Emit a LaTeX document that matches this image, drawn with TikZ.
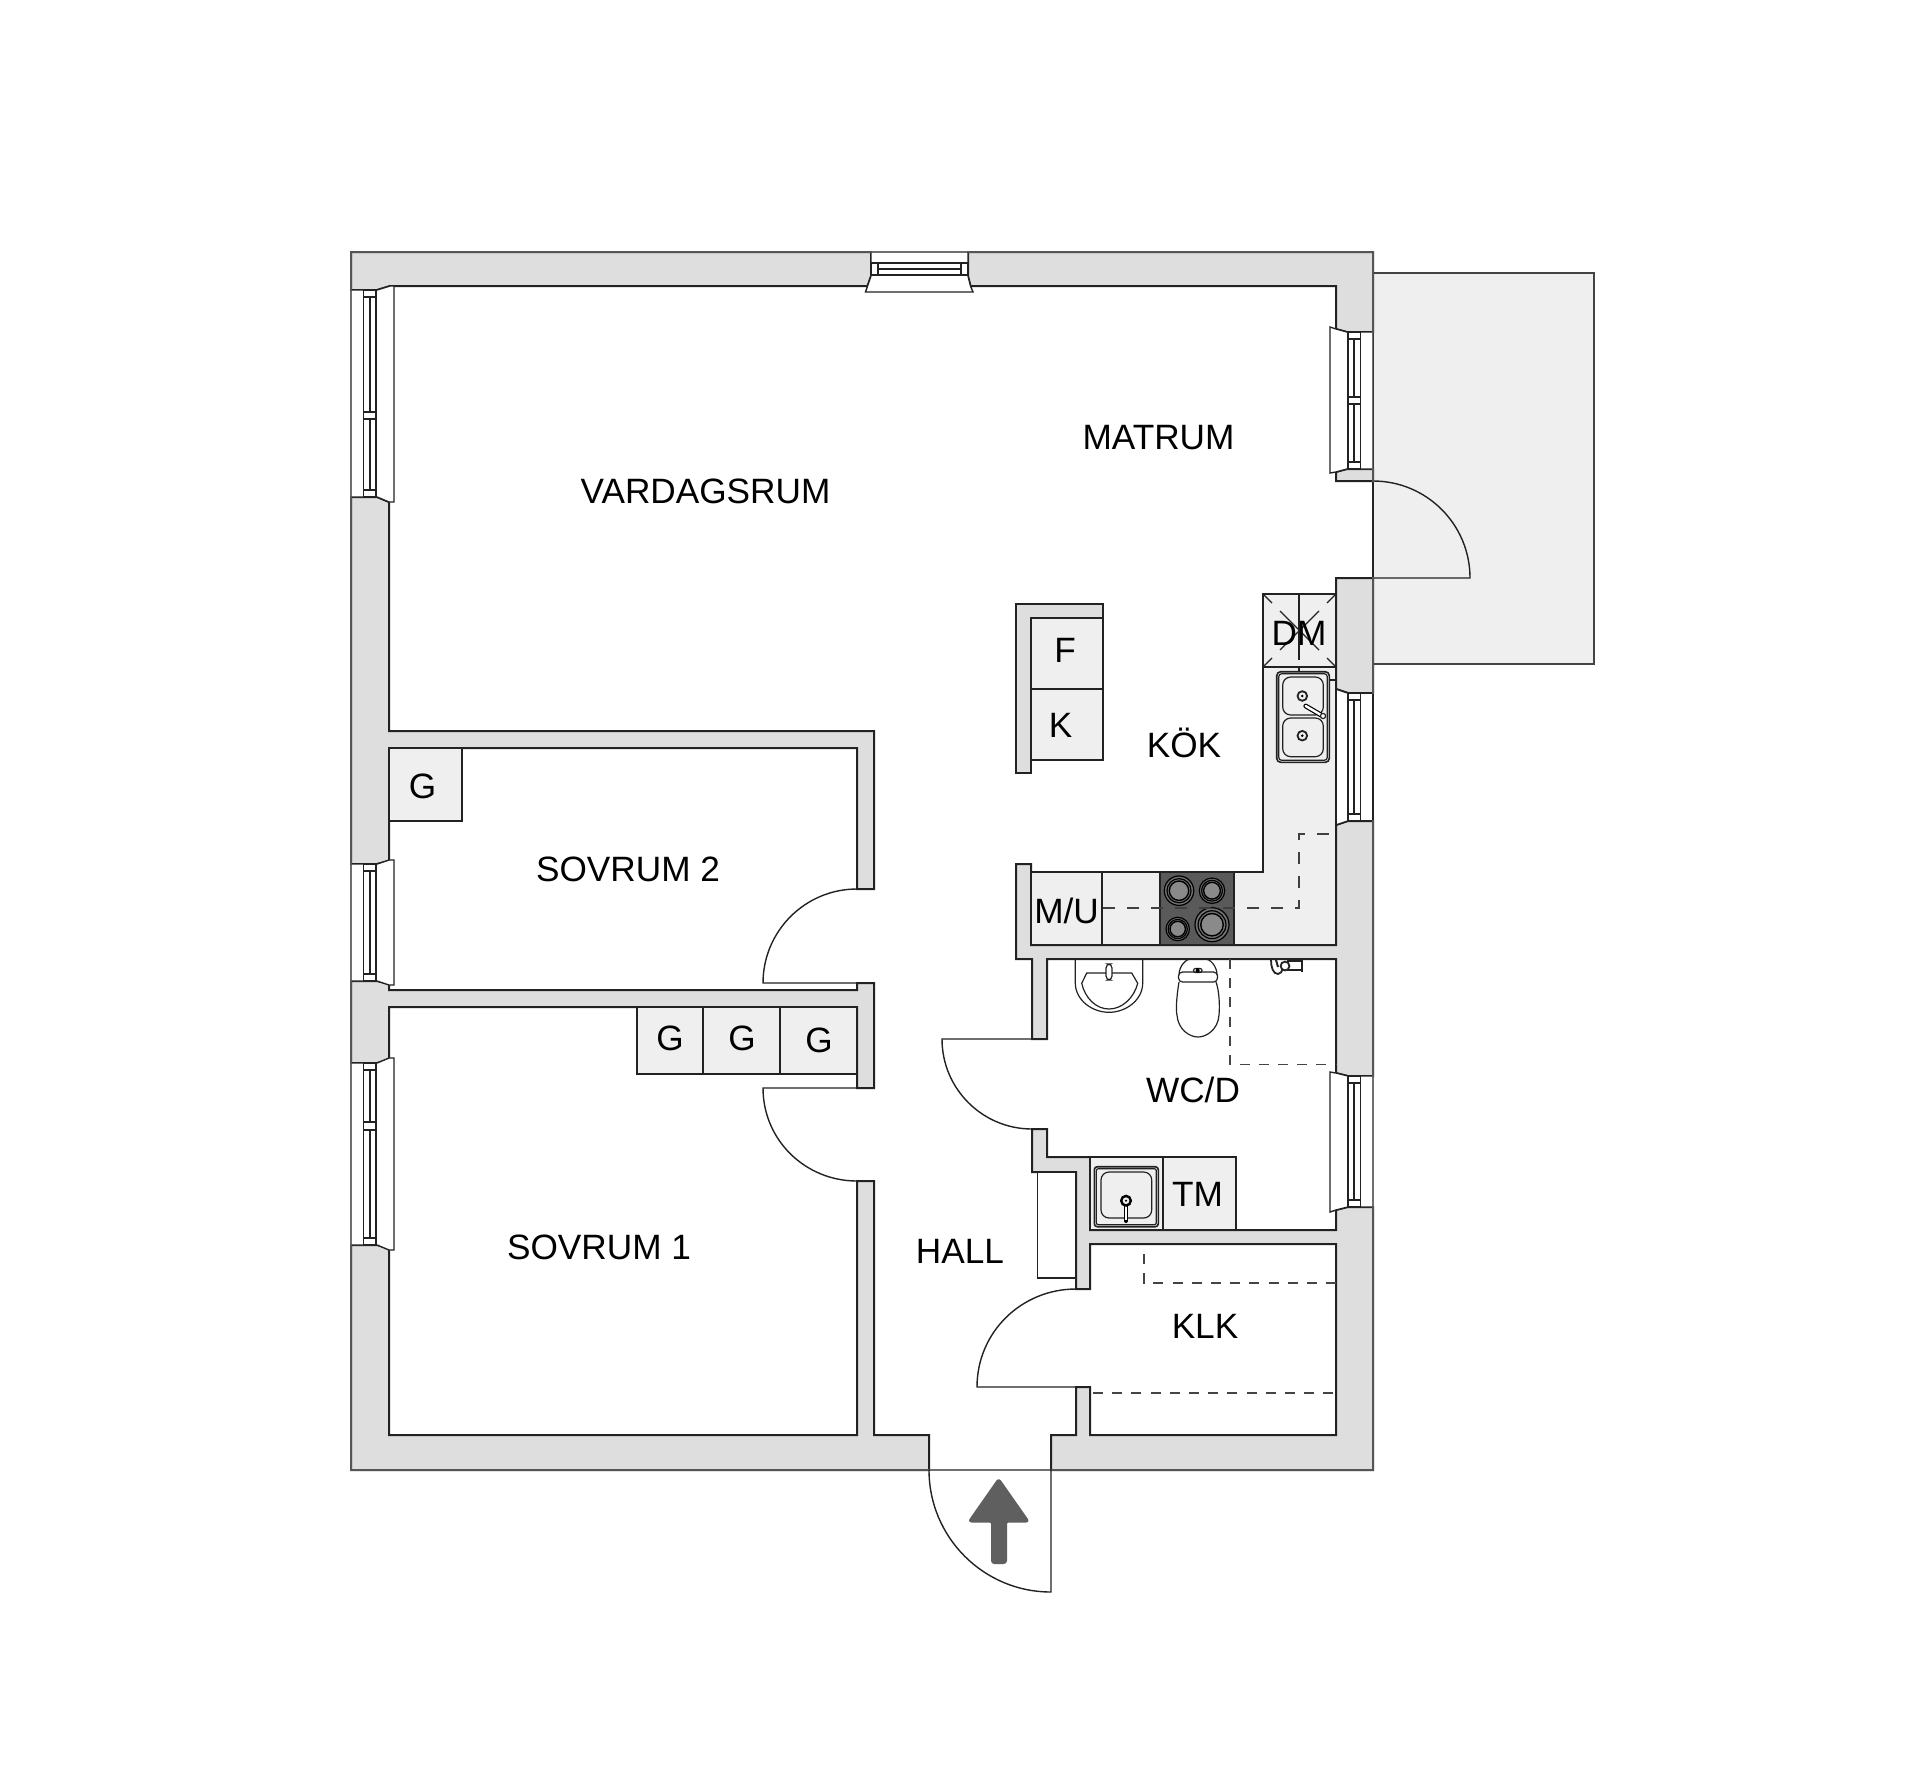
\documentclass[tikz,border=0pt]{standalone}
\usepackage{fontspec}
\setmainfont{Liberation Sans}
\definecolor{wallgray}{HTML}{DEDEDE}
\definecolor{unitgray}{HTML}{EFEFEF}
\definecolor{inkdark}{HTML}{222222}
\definecolor{dashink}{HTML}{444444}
\definecolor{edgeink}{HTML}{555555}
\definecolor{hobgray}{HTML}{5A5A5A}
\definecolor{burnergray}{HTML}{8A8A8A}
\definecolor{arrowgray}{HTML}{5F5F5F}
\tikzset{
  wallpoly/.style={fill=wallgray,draw=inkdark,line width=1pt,line join=miter},
  outeredge/.style={draw=edgeink,line width=0.9pt,line cap=rect},
  unitbox/.style={fill=unitgray,draw=inkdark,line width=0.75pt},
  thinline/.style={draw=inkdark,line width=0.6pt},
  doorline/.style={draw=inkdark,line width=0.7pt},
  revealpoly/.style={fill=white,draw=inkdark,line width=0.7pt},
  dashline/.style={draw=dashink,line width=0.75pt,dash pattern=on 5pt off 4.6pt},
  kitchendash/.style={draw=black!75,line width=0.75pt,dash pattern=on 6pt off 6pt},
  fixture/.style={draw=inkdark,line width=0.6pt},
  roomlabel/.style={font=\fontsize{17.6pt}{20pt}\selectfont,text=black,anchor=base,inner sep=0pt},
  burner/.style={draw=black,line width=0.7pt,fill=burnergray},
  burnerring/.style={draw=black,line width=0.6pt}
}
\newcommand{\winframeV}[3]{% x-left, y-top, y-bottom
  \draw[thinline,fill=white,line width=0.8pt] (#1,#2) rectangle (#1+12.5,#3);
  \draw[thinline,line width=0.8pt] (#1+6.2,#2) -- (#1+6.2,#3);
}
\newcommand{\wincapV}[3]{\draw[thinline,fill=white] (#1,#2) rectangle (#1+12.5,#3);}
\newcommand{\burnerset}[2]{% centre, radius
  \fill[black!55] (#1) circle (#2*0.5pt);
  \draw[burnerring] (#1) circle (#2*0.5pt);
  \draw[burnerring] (#1) circle (#2*0.41pt);
  \draw[burner] (#1) circle (#2*0.33pt);
}
\begin{document}
\begin{tikzpicture}[x=0.5pt,y=-0.5pt]
\useasboundingbox[fill=white] (0,0) rectangle (1920,1787);

% balcony
\draw[fill=unitgray,draw=dashink,line width=0.7pt] (1373,273) rectangle (1594,664);
\draw[doorline] (1373,481) -- (1373,578);
\draw[doorline] (1373,481) .. controls (1426.6,481) and (1470,524.4) .. (1470,578) -- (1373,578);

% walls
\draw[wallpoly] (351,290) -- (351,252) -- (871,252) -- (871,276) -- (867.5,286) -- (390,286) -- (377,290) -- cycle;
\draw[wallpoly] (968,252) -- (1373,252) -- (1373,332) -- (1347,332) -- (1336,329) -- (1336,286) -- (970.5,286) -- (968,276) -- cycle;
\draw[wallpoly] (1373,469) -- (1373,481) -- (1336,481) -- (1336,472) -- (1347,469) -- cycle;
\draw[wallpoly] (1373,578) -- (1373,693) -- (1348,693) -- (1336,689) -- (1336,578) -- cycle;
\draw[wallpoly] (1373,821) -- (1373,1076) -- (1348,1076) -- (1336,1073) -- (1336,959) -- (1047,959) -- (1047,1039) -- (1032,1039) -- (1032,959) -- (1016,959) -- (1016,864) -- (1031,864) -- (1031,945) -- (1336,945) -- (1336,825) -- (1348,821) -- cycle;
\draw[wallpoly] (1373,1207) -- (1373,1470) -- (1051,1470) -- (1051,1435) -- (1076,1435) -- (1076,1387) -- (1090,1387) -- (1090,1435) -- (1336,1435) -- (1336,1244) -- (1090,1244) -- (1090,1289) -- (1076,1289) -- (1076,1172) -- (1032,1172) -- (1032,1129) -- (1047,1129) -- (1047,1157) -- (1090,1157) -- (1090,1230) -- (1336,1230) -- (1336,1210) -- (1348,1207) -- cycle;
\draw[wallpoly] (351,497) -- (377,497) -- (389,502) -- (389,731) -- (874,731) -- (874,889) -- (857,889) -- (857,748) -- (389,748) -- (389,861) -- (377,864) -- (351,864) -- cycle;
\draw[wallpoly] (351,981) -- (377,981) -- (389,984) -- (389,990) -- (857,990) -- (857,983) -- (874,983) -- (874,1088) -- (857,1088) -- (857,1007) -- (389,1007) -- (389,1060) -- (377,1063) -- (351,1063) -- cycle;
\draw[wallpoly] (351,1245) -- (377,1245) -- (389,1248) -- (389,1435) -- (857,1435) -- (857,1181) -- (874,1181) -- (874,1435) -- (929,1435) -- (929,1470) -- (351,1470) -- cycle;
\draw[wallpoly] (1016,604) -- (1103,604) -- (1103,618) -- (1031,618) -- (1031,773) -- (1016,773) -- cycle;

% window reveals and frames, left side
\draw[revealpoly] (351,290) -- (377,290) -- (390,286) -- (394,286) -- (394,502) -- (389,502) -- (377,497) -- (351,497) -- cycle;
\winframeV{363.5}{290}{497}
\wincapV{363.5}{290}{297}\wincapV{363.5}{412}{419}\wincapV{363.5}{490}{497}
\draw[revealpoly] (351,864) -- (377,864) -- (389,860) -- (394,860) -- (394,985) -- (389,985) -- (377,981) -- (351,981) -- cycle;
\winframeV{363.5}{864}{981}
\wincapV{363.5}{864}{871}\wincapV{363.5}{974}{981}
\draw[revealpoly] (351,1063) -- (377,1063) -- (389,1058) -- (394,1058) -- (394,1250) -- (389,1250) -- (377,1245) -- (351,1245) -- cycle;
\winframeV{363.5}{1063}{1245}
\wincapV{363.5}{1063}{1070}\wincapV{363.5}{1122}{1130}\wincapV{363.5}{1238}{1245}

% window reveals and frames, right side
\draw[revealpoly] (1373,332) -- (1347,332) -- (1336,329) -- (1330,327) -- (1330,473) -- (1336,472) -- (1347,469) -- (1373,469) -- cycle;
\winframeV{1348}{332}{469}
\wincapV{1348}{332}{339}\wincapV{1348}{397}{404}\wincapV{1348}{462}{469}
\draw[revealpoly] (1373,1076) -- (1348,1076) -- (1336,1073) -- (1330,1072) -- (1330,1212) -- (1336,1210) -- (1348,1207) -- (1373,1207) -- cycle;
\winframeV{1348}{1076}{1207}
\wincapV{1348}{1076}{1083}\wincapV{1348}{1200}{1207}

% top window
\draw[revealpoly] (871,252) -- (968,252) -- (968,276) -- (970.5,286) -- (973,292) -- (865.5,292) -- (867.5,286) -- (871,276) -- cycle;
\draw[thinline,fill=white,line width=0.8pt] (871,263) rectangle (968,275);
\draw[thinline,line width=0.8pt] (871,269) -- (968,269);
\draw[thinline,fill=white] (871,263) rectangle (878,275);
\draw[thinline,fill=white] (961,263) rectangle (968,275);

% kitchen counter
\draw[unitbox] (1263,667) -- (1336,667) -- (1336,945) -- (1031,945) -- (1031,872) -- (1263,872) -- cycle;
\draw[revealpoly,draw=none] (1336.5,689) -- (1348,693) -- (1373,693) -- (1373,821) -- (1348,821) -- (1336.5,825) -- cycle;
\draw[thinline,line width=0.8pt] (1336,689) -- (1348,693) -- (1373,693) (1373,693) -- (1373,821) -- (1348,821) -- (1336,825);
\draw[thinline,line width=0.8pt] (1336,667) -- (1336,945);
\winframeV{1348}{693}{821}
\wincapV{1348}{693}{700}\wincapV{1348}{814}{821}

% outer wall edges, lighter than the inner ones
\draw[outeredge] (351,252) -- (871,252) (968,252) -- (1373,252) -- (1373,332)
  (1373,469) -- (1373,481) (1373,578) -- (1373,693) (1373,821) -- (1373,1076) (1373,1207) -- (1373,1470) -- (1051,1470)
  (929,1470) -- (351,1470) -- (351,1245) (351,1063) -- (351,981) (351,864) -- (351,497) (351,290) -- (351,252);

% units
\draw[unitbox] (1263,594) rectangle (1336,667);
\draw[unitbox] (1031,618) rectangle (1103,689);
\draw[unitbox] (1031,689) rectangle (1103,760);
\draw[unitbox] (1031,872) rectangle (1102,945);
\draw[unitbox] (1102,872) rectangle (1160,945);
\draw[unitbox] (389,748) rectangle (462,821);
\draw[unitbox] (637,1007) rectangle (703,1074);
\draw[unitbox] (703,1007) rectangle (780,1074);
\draw[unitbox] (780,1007) rectangle (857,1074);
\draw[unitbox] (1090,1157) rectangle (1163,1230);
\draw[unitbox] (1163,1157) rectangle (1236,1230);

% dishwasher marks
\draw[fixture] (1299,594) -- (1299,660);
\draw[fixture] (1263,594) -- (1272,603) (1280,611) -- (1319,650) (1327,658) -- (1336,667);
\draw[fixture] (1336,594) -- (1327,603) (1319,611) -- (1280,650) (1272,658) -- (1263,667);
\draw[fixture] (1299,667) -- (1299,680) -- (1311,680) (1323,680) -- (1336,680);

% hob
\fill[hobgray,draw=inkdark,line width=0.6pt] (1160,872) rectangle (1234,945);
\burnerset{1179,890.7}{14.7}
\burnerset{1212,890.7}{12.7}
\burnerset{1177.7,929}{11.7}
\burnerset{1212,924.7}{17}

% kitchen sink
\draw[fixture,fill=unitgray,rounded corners=2pt,line width=0.8pt] (1276.7,671.7) rectangle (1329.3,762.3);
\draw[fixture,rounded corners=1.5pt] (1278.7,673.7) rectangle (1327.3,760.3);
\draw[fixture,rounded corners=4pt] (1282.7,677) rectangle (1323.3,715);
\draw[fixture,rounded corners=4pt] (1282.7,718) rectangle (1323.3,756.7);
\foreach \py in {696,735.7}{
  \draw[fixture,line width=0.9pt,fill=unitgray] (1302.3,\py) circle (2.4pt);
  \fill[black] (1302.3,\py) circle (0.7pt);
}
\draw[draw=black,line width=2.4pt,line cap=round] (1305.7,706) -- (1321,715);
\draw[draw=white,line width=1.2pt,line cap=round] (1305.7,706) -- (1321,715);
\draw[fixture,fill=white] (1323,716) circle (1.3pt);

% dashed outlines
\draw[kitchendash] (1103,908) -- (1299,908) -- (1299,834) -- (1336,834);
\draw[dashline] (1230,959) -- (1230,1064.7) -- (1336,1064.7);
\draw[dashline] (1144,1254) -- (1144,1283) -- (1336,1283);
\draw[dashline] (1093,1393) -- (1336,1393);

% wash basin
\draw[fixture] (1075.3,959) -- (1075.3,983) .. controls (1075.3,1000) and (1092,1012.3) .. (1109,1012.3) .. controls (1126,1012.3) and (1142.7,1000) .. (1142.7,983) -- (1142.7,959);
\draw[fixture] (1081.7,983.3) -- (1086.7,973) -- (1131.7,973) -- (1137.7,983.3) .. controls (1134,998) and (1122,1009) .. (1109,1009) .. controls (1096,1009) and (1085,998) .. (1081.7,983.3) -- cycle;
\draw[fixture,fill=white,rounded corners=2pt] (1106,964) rectangle (1112,980);

% toilet
\draw[fixture] (1179,975) .. controls (1179,965) and (1187,959) .. (1190,959) -- (1206,959) .. controls (1209,959) and (1217,965) .. (1217,975);
\draw[fixture,fill=white,rounded corners=2pt] (1178.5,972) rectangle (1217.5,982);
\draw[fixture] (1179,982) .. controls (1176,1000) and (1176,1012) .. (1177,1015) .. controls (1178,1030) and (1190,1037) .. (1198,1037) .. controls (1206,1037) and (1218,1030) .. (1219,1015) .. controls (1220,1005) and (1219,990) .. (1216,982);
\draw[fixture,rounded corners=1pt] (1193.5,968.5) rectangle (1202,972.5);
\fill[black] (1197.7,970.4) ellipse (1pt and 1.2pt);

% shower mixer
\draw[fixture,line width=0.9pt,fill=white] (1288,961) rectangle (1302,970);
\draw[fixture,line width=0.9pt] (1271,960) .. controls (1271,967) and (1273,974) .. (1278,974) .. controls (1281,974) and (1282,971) .. (1283,968) -- (1288,968);
\draw[fixture,line width=0.9pt,fill=white] (1285,966) circle (2.2pt);
\draw[fixture,line width=1pt] (1276,960) -- (1278,967);
\draw[fixture,line width=1pt] (1302,961) -- (1302,972);

% laundry sink
\draw[fixture,rounded corners=1.5pt,line width=0.8pt] (1094.3,1166.7) rectangle (1158.3,1226.7);
\draw[fixture,rounded corners=1pt] (1096.3,1168.7) rectangle (1156.3,1224.7);
\draw[fixture,rounded corners=4pt] (1101,1172) rectangle (1151.7,1218);
\draw[draw=black,line width=2pt,line cap=round] (1126,1203) -- (1126,1221);
\draw[draw=white,line width=0.7pt] (1126,1205) -- (1126,1220);
\draw[draw=black,line width=1.2pt,fill=unitgray] (1126,1200.7) circle (2.4pt);
\fill[black] (1126,1200.7) circle (0.6pt);

% hall cupboard
\draw[fixture,fill=white] (1037.7,1172) rectangle (1076,1278);

% doors
\draw[doorline] (857,889) .. controls (805.1,889) and (763,931.1) .. (763,983) -- (857,983);
\draw[doorline] (857,1088) -- (763,1088) .. controls (763,1139.9) and (805.1,1181) .. (857,1181);
\draw[doorline] (1032,1039) -- (942,1039) .. controls (942,1088.7) and (982.3,1129) .. (1032,1129);
\draw[doorline] (1076,1289) .. controls (1021.3,1289) and (977,1332.3) .. (977,1387) -- (1076,1387);
\draw[doorline] (929,1470) -- (1051,1470) -- (1051,1592) .. controls (983.6,1592) and (929,1537.4) .. (929,1470);

% entrance arrow
\fill[arrowgray,draw=arrowgray,line width=1pt,line join=round,rounded corners=1.2pt] (998.7,1479) -- (1028.5,1521.5) -- (1006,1521.5) -- (1006,1563) -- (992,1563) -- (992,1521.5) -- (969,1521.5) -- cycle;

% labels
\node[roomlabel] (vard) at (705.5,503.5) {VARDAGSRUM};
\node[roomlabel] (mat) at (1158.5,449.5) {MATRUM};
\node[roomlabel] (kok) at (1184,757) {KÖK};
\node[roomlabel] (ff) at (1065,662.5) {F};
\node[roomlabel] (kk) at (1060.5,737.5) {K};
\node[roomlabel] (dm) at (1299,645.5) {DM};
\node[roomlabel] (mu) at (1066.5,923.5) {M/U};
\node[roomlabel] (g1) at (422.5,798.5) {G};
\node[roomlabel] (s2) at (628,881.5) {SOVRUM 2};
\node[roomlabel] (g2) at (670,1050.5) {G};
\node[roomlabel] (g3) at (742,1050.5) {G};
\node[roomlabel] (g4) at (819,1052.5) {G};
\node[roomlabel] (s1) at (599,1259) {SOVRUM 1};
\node[roomlabel] (hall) at (960,1263.5) {HALL};
\node[roomlabel] (wc) at (1193,1102.5) {WC/D};
\node[roomlabel] (tm) at (1197.5,1206.5) {TM};
\node[roomlabel] (klk) at (1205,1338.5) {KLK};
\end{tikzpicture}
\end{document}
